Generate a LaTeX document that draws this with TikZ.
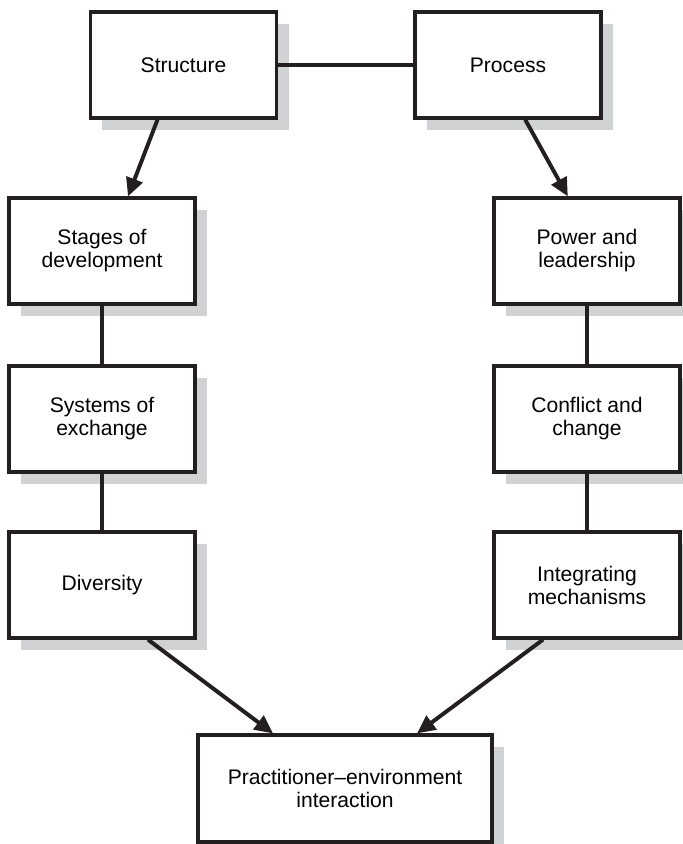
\documentclass[tikz,border=0pt]{standalone}
\usepackage{fontspec}
\setmainfont{Liberation Sans}
\usetikzlibrary{shadows,arrows.meta}
\definecolor{inkblack}{HTML}{231F20}
\definecolor{shadowgray}{HTML}{D1D2D4}
\tikzset{
  topicbox/.style={draw=inkblack, line width=2.3pt, fill=white, align=center,
    minimum width=4.65cm, minimum height=2.65cm, inner sep=2pt,
    font=\fontsize{15}{16.4}\selectfont,
    drop shadow={shadow xshift=0.3cm, shadow yshift=-0.3cm, fill=shadowgray, opacity=1}},
  link/.style={draw=inkblack, line width=2.8pt},
  flow/.style={link, -{Triangle[length=13pt, width=12pt]}}
}
\begin{document}
\begin{tikzpicture}[x=0.025cm, y=-0.025cm]
				\useasboundingbox (0,0) rectangle (683,844);
				
				% Fila superior
				\node[topicbox] (structure) at (183.5,65) {Structure};
				\node[topicbox] (process) at (508,65) {Process};
				
				% Columna izquierda
				\node[topicbox] (stages) at (102,251) {Stages of\\development};
				\node[topicbox] (systems) at (102,419) {Systems of\\exchange};
				\node[topicbox] (diversity) at (102,585) {Diversity};
				
				% Columna derecha
				\node[topicbox] (power) at (587,251) {Power and\\leadership};
				\node[topicbox] (conflict) at (587,419) {Conflict and\\change};
				\node[topicbox] (integrating) at (587,585) {Integrating\\mechanisms};
				
				% Caja final
				\node[topicbox, minimum width=7.35cm, minimum height=2.675cm] (practitioner) at (345,788.5)
				{Practitioner--environment\\interaction};
				
				% Conexiones
				\draw[link] (structure.east) -- (process.west);
				\draw[link] (stages.south) -- (systems.north);
				\draw[link] (systems.south) -- (diversity.north);
				\draw[link] (power.south) -- (conflict.north);
				\draw[link] (conflict.south) -- (integrating.north);
				
				% Flechas
				\draw[flow] ([xshift=-0.65cm]structure.south) -- ([xshift=0.65cm]stages.north);
				\draw[flow] ([xshift=0.43cm]process.south) -- ([xshift=-0.48cm]power.north);
				\draw[flow] ([xshift=1.15cm]diversity.south) -- ([xshift=-1.8cm]practitioner.north);
				\draw[flow] ([xshift=-1.1cm]integrating.south) -- ([xshift=1.8cm]practitioner.north);
			\end{tikzpicture}
\end{document}
